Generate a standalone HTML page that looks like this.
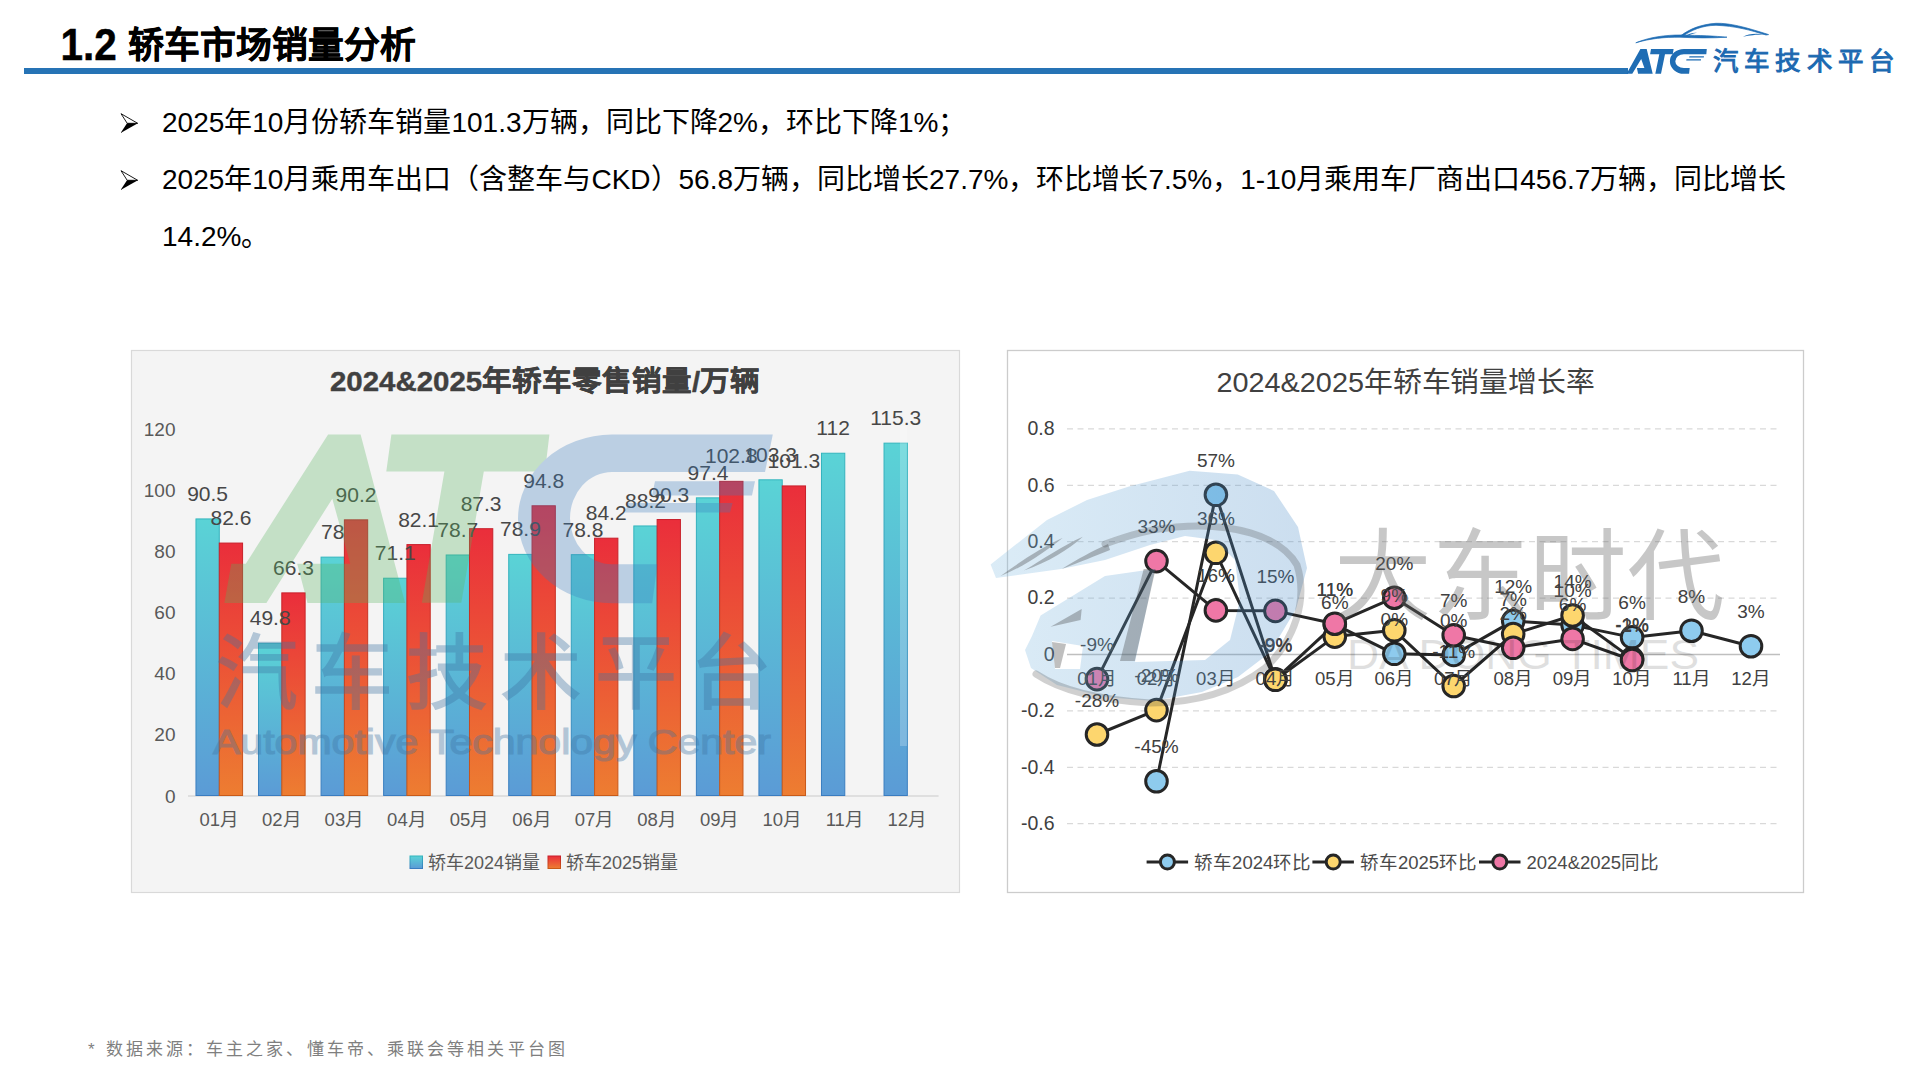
<!DOCTYPE html>
<html lang="zh-CN"><head><meta charset="utf-8">
<style>
html,body{margin:0;padding:0;background:#fff;}
body{width:1920px;height:1080px;overflow:hidden;position:relative;font-family:"Liberation Sans", sans-serif;}
.abs{position:absolute;white-space:nowrap;}
</style></head><body>

<div class="abs" style="left:60.5px;top:21px;font-size:40.5px;font-weight:bold;color:#000;line-height:50px;transform:scaleY(1.1);transform-origin:0 38px;-webkit-text-stroke:0.4px #000;">1.2</div>
<div class="abs" style="left:127.5px;top:22.5px;font-size:35.8px;font-weight:bold;color:#000;line-height:46px;-webkit-text-stroke:0.5px #000;">轿车市场销量分析</div>
<div class="abs" style="left:24px;top:67.5px;width:1604px;height:6px;background:#2673b5;"></div>
<svg class="abs" style="left:1600px;top:15px" width="320" height="70" viewBox="1600 15 320 70">
<g fill="#1f6db4">
<path d="M1626.6 73.8 L1640.4 48.9 L1646.7 48.9 L1652.7 73.8 L1638.1 73.8 L1636.9 68.1 L1644.4 68.1 L1641.2 58.9 L1632.3 73.8 Z"/>
<path d="M1651 48.9 L1673.6 48.9 L1672.8 54.3 L1665 54.3 L1661 73.8 L1655.3 73.8 L1659.3 54.3 L1650.1 54.3 Z"/>
<path d="M1683.9 48.9 L1706.8 48.9 L1706.3 54.3 L1683.9 54.3 A 8.6 6.9 0 0 0 1683.9 68.1 L1689.7 68.1 L1689.1 73.8 L1683.9 73.8 A 14 12.45 0 0 1 1683.9 48.9 Z"/>
<path d="M1689.5 56.3 L1704 56.3 L1703.8 57.6 L1689.1 57.6 Z M1686.5 59.2 L1701.1 59.2 L1700.9 60.4 L1686.2 60.4 Z"/>
<path stroke="#1f6db4" stroke-width="0.7" d="M1635.8 42.8 C1650 37 1665 35 1681 35 C1700 35.5 1715 36 1727 37.2 C1712 38.2 1695 38 1680 37.2 C1665 37 1650 38.5 1635.8 42.8 Z"/>
<path stroke="#1f6db4" stroke-width="0.7" d="M1681 35.5 C1690 29 1700 24.5 1716 23.3 C1730 23 1745 27 1768.6 34.6 L1766 35 C1750 30 1735 26 1716 25.3 C1702 25.5 1692 30 1683 36 Z"/>
<path d="M1743 36.8 C1748 34 1755 33 1766 34.6 C1756 34.5 1750 35.5 1743 36.8 Z"/>
<path d="M1684.5 36.8 C1688 33.5 1693 32.5 1697 32.8 C1692 33.8 1689 35 1686 37 Z"/>
</g>
<text x="1713" y="70" font-size="25.5" fill="#1c69b1" stroke="#1c69b1" stroke-width="1" font-family="Liberation Sans, sans-serif" textLength="182" lengthAdjust="spacing">汽车技术平台</text>
</svg>
<svg class="abs" style="left:119.5px;top:113px" width="19" height="21" viewBox="0 0 19 21"><path d="M1 0.7 L17.7 10.3 L7.2 10.3 Z" fill="#fff" stroke="#000" stroke-width="0.9" stroke-linejoin="miter"/><path d="M0.6 20 L17.9 10.3 L7 10.3 Z" fill="#000"/></svg>
<svg class="abs" style="left:119.5px;top:170.3px" width="19" height="21" viewBox="0 0 19 21"><path d="M1 0.7 L17.7 10.3 L7.2 10.3 Z" fill="#fff" stroke="#000" stroke-width="0.9" stroke-linejoin="miter"/><path d="M0.6 20 L17.9 10.3 L7 10.3 Z" fill="#000"/></svg>
<div class="abs" style="left:162px;top:103px;font-size:28px;color:#000;line-height:40px;">2025年10月份轿车销量101.3万辆，同比下降2%，环比下降1%；</div>
<div class="abs" style="left:162px;top:160px;font-size:28px;color:#000;line-height:40px;">2025年10月乘用车出口（含整车与CKD）56.8万辆，同比增长27.7%，环比增长7.5%，1-10月乘用车厂商出口456.7万辆，同比增长</div>
<div class="abs" style="left:162px;top:217px;font-size:28px;color:#000;line-height:40px;">14.2%。</div>
<svg class="abs" style="left:0;top:0" width="1920" height="1080" viewBox="0 0 1920 1080">
<defs>
<linearGradient id="gb" x1="0" y1="0" x2="0" y2="1"><stop offset="0" stop-color="#5ad3d6"/><stop offset="1" stop-color="#5b9bd6"/></linearGradient>
<linearGradient id="go" x1="0" y1="0" x2="0" y2="1"><stop offset="0" stop-color="#ea2e3b"/><stop offset="1" stop-color="#ed7d31"/></linearGradient>
<linearGradient id="gbs" x1="0" y1="0" x2="0" y2="1"><stop offset="0" stop-color="#33b5bd"/><stop offset="1" stop-color="#3a7cc0"/></linearGradient>
<linearGradient id="gos" x1="0" y1="0" x2="0" y2="1"><stop offset="0" stop-color="#c81e2a"/><stop offset="1" stop-color="#c85a18"/></linearGradient>
</defs>
<rect x="131.5" y="350.5" width="828" height="542" fill="#f4f4f4" stroke="#d9d9d9" stroke-width="1.2"/>
<text x="330" y="391" font-size="28.5" font-weight="bold" fill="#404040" stroke="#404040" stroke-width="0.4" font-family="Liberation Sans, sans-serif" textLength="430" lengthAdjust="spacingAndGlyphs">2024&amp;2025年轿车零售销量/万辆</text>
<text x="175.5" y="802.5" text-anchor="end" font-size="19" fill="#595959" font-family="Liberation Sans, sans-serif">0</text>
<text x="175.5" y="741.4" text-anchor="end" font-size="19" fill="#595959" font-family="Liberation Sans, sans-serif">20</text>
<text x="175.5" y="680.3" text-anchor="end" font-size="19" fill="#595959" font-family="Liberation Sans, sans-serif">40</text>
<text x="175.5" y="619.1" text-anchor="end" font-size="19" fill="#595959" font-family="Liberation Sans, sans-serif">60</text>
<text x="175.5" y="558.0" text-anchor="end" font-size="19" fill="#595959" font-family="Liberation Sans, sans-serif">80</text>
<text x="175.5" y="496.9" text-anchor="end" font-size="19" fill="#595959" font-family="Liberation Sans, sans-serif">100</text>
<text x="175.5" y="435.8" text-anchor="end" font-size="19" fill="#595959" font-family="Liberation Sans, sans-serif">120</text>
<line x1="188" y1="796" x2="938.6" y2="796" stroke="#d9d9d9" stroke-width="1.5"/>
<rect x="195.97" y="518.93" width="23.30" height="276.57" fill="url(#gb)" stroke="url(#gbs)" stroke-width="1"/>
<rect x="219.28" y="543.07" width="23.30" height="252.43" fill="url(#go)" stroke="url(#gos)" stroke-width="1"/>
<text x="219.3" y="825.5" text-anchor="middle" font-size="18.5" fill="#595959" font-family="Liberation Sans, sans-serif">01月</text>
<rect x="258.52" y="643.31" width="23.30" height="152.19" fill="url(#gb)" stroke="url(#gbs)" stroke-width="1"/>
<rect x="281.82" y="592.89" width="23.30" height="202.61" fill="url(#go)" stroke="url(#gos)" stroke-width="1"/>
<text x="281.8" y="825.5" text-anchor="middle" font-size="18.5" fill="#595959" font-family="Liberation Sans, sans-serif">02月</text>
<rect x="321.07" y="557.13" width="23.30" height="238.37" fill="url(#gb)" stroke="url(#gbs)" stroke-width="1"/>
<rect x="344.38" y="519.85" width="23.30" height="275.65" fill="url(#go)" stroke="url(#gos)" stroke-width="1"/>
<text x="344.4" y="825.5" text-anchor="middle" font-size="18.5" fill="#595959" font-family="Liberation Sans, sans-serif">03月</text>
<rect x="383.62" y="578.22" width="23.30" height="217.28" fill="url(#gb)" stroke="url(#gbs)" stroke-width="1"/>
<rect x="406.93" y="544.60" width="23.30" height="250.90" fill="url(#go)" stroke="url(#gos)" stroke-width="1"/>
<text x="406.9" y="825.5" text-anchor="middle" font-size="18.5" fill="#595959" font-family="Liberation Sans, sans-serif">04月</text>
<rect x="446.18" y="554.99" width="23.30" height="240.51" fill="url(#gb)" stroke="url(#gbs)" stroke-width="1"/>
<rect x="469.48" y="528.71" width="23.30" height="266.79" fill="url(#go)" stroke="url(#gos)" stroke-width="1"/>
<text x="469.5" y="825.5" text-anchor="middle" font-size="18.5" fill="#595959" font-family="Liberation Sans, sans-serif">05月</text>
<rect x="508.73" y="554.38" width="23.30" height="241.12" fill="url(#gb)" stroke="url(#gbs)" stroke-width="1"/>
<rect x="532.03" y="505.79" width="23.30" height="289.71" fill="url(#go)" stroke="url(#gos)" stroke-width="1"/>
<text x="532.0" y="825.5" text-anchor="middle" font-size="18.5" fill="#595959" font-family="Liberation Sans, sans-serif">06月</text>
<rect x="571.28" y="554.69" width="23.30" height="240.81" fill="url(#gb)" stroke="url(#gbs)" stroke-width="1"/>
<rect x="594.58" y="538.18" width="23.30" height="257.32" fill="url(#go)" stroke="url(#gos)" stroke-width="1"/>
<text x="594.6" y="825.5" text-anchor="middle" font-size="18.5" fill="#595959" font-family="Liberation Sans, sans-serif">07月</text>
<rect x="633.83" y="525.96" width="23.30" height="269.54" fill="url(#gb)" stroke="url(#gbs)" stroke-width="1"/>
<rect x="657.12" y="519.54" width="23.30" height="275.96" fill="url(#go)" stroke="url(#gos)" stroke-width="1"/>
<text x="657.1" y="825.5" text-anchor="middle" font-size="18.5" fill="#595959" font-family="Liberation Sans, sans-serif">08月</text>
<rect x="696.38" y="497.85" width="23.30" height="297.65" fill="url(#gb)" stroke="url(#gbs)" stroke-width="1"/>
<rect x="719.68" y="481.34" width="23.30" height="314.16" fill="url(#go)" stroke="url(#gos)" stroke-width="1"/>
<text x="719.7" y="825.5" text-anchor="middle" font-size="18.5" fill="#595959" font-family="Liberation Sans, sans-serif">09月</text>
<rect x="758.93" y="479.82" width="23.30" height="315.68" fill="url(#gb)" stroke="url(#gbs)" stroke-width="1"/>
<rect x="782.23" y="485.93" width="23.30" height="309.57" fill="url(#go)" stroke="url(#gos)" stroke-width="1"/>
<text x="782.2" y="825.5" text-anchor="middle" font-size="18.5" fill="#595959" font-family="Liberation Sans, sans-serif">10月</text>
<rect x="821.48" y="453.23" width="23.30" height="342.27" fill="url(#gb)" stroke="url(#gbs)" stroke-width="1"/>
<text x="844.8" y="825.5" text-anchor="middle" font-size="18.5" fill="#595959" font-family="Liberation Sans, sans-serif">11月</text>
<rect x="884.03" y="443.14" width="23.30" height="352.36" fill="url(#gb)" stroke="url(#gbs)" stroke-width="1"/>
<text x="907.3" y="825.5" text-anchor="middle" font-size="18.5" fill="#595959" font-family="Liberation Sans, sans-serif">12月</text>
<text x="207.6" y="500.9" text-anchor="middle" font-size="21" fill="#474747" font-family="Liberation Sans, sans-serif">90.5</text>
<text x="230.9" y="525.1" text-anchor="middle" font-size="21" fill="#474747" font-family="Liberation Sans, sans-serif">82.6</text>
<text x="270.2" y="625.3" text-anchor="middle" font-size="21" fill="#474747" font-family="Liberation Sans, sans-serif">49.8</text>
<text x="293.5" y="574.9" text-anchor="middle" font-size="21" fill="#474747" font-family="Liberation Sans, sans-serif">66.3</text>
<text x="332.7" y="539.1" text-anchor="middle" font-size="21" fill="#474747" font-family="Liberation Sans, sans-serif">78</text>
<text x="356.0" y="501.8" text-anchor="middle" font-size="21" fill="#474747" font-family="Liberation Sans, sans-serif">90.2</text>
<text x="395.3" y="560.2" text-anchor="middle" font-size="21" fill="#474747" font-family="Liberation Sans, sans-serif">71.1</text>
<text x="418.6" y="526.6" text-anchor="middle" font-size="21" fill="#474747" font-family="Liberation Sans, sans-serif">82.1</text>
<text x="457.8" y="537.0" text-anchor="middle" font-size="21" fill="#474747" font-family="Liberation Sans, sans-serif">78.7</text>
<text x="481.1" y="510.7" text-anchor="middle" font-size="21" fill="#474747" font-family="Liberation Sans, sans-serif">87.3</text>
<text x="520.4" y="536.4" text-anchor="middle" font-size="21" fill="#474747" font-family="Liberation Sans, sans-serif">78.9</text>
<text x="543.7" y="487.8" text-anchor="middle" font-size="21" fill="#474747" font-family="Liberation Sans, sans-serif">94.8</text>
<text x="582.9" y="536.7" text-anchor="middle" font-size="21" fill="#474747" font-family="Liberation Sans, sans-serif">78.8</text>
<text x="606.2" y="520.2" text-anchor="middle" font-size="21" fill="#474747" font-family="Liberation Sans, sans-serif">84.2</text>
<text x="645.5" y="508.0" text-anchor="middle" font-size="21" fill="#474747" font-family="Liberation Sans, sans-serif">88.2</text>
<text x="668.8" y="501.5" text-anchor="middle" font-size="21" fill="#474747" font-family="Liberation Sans, sans-serif">90.3</text>
<text x="708.0" y="479.8" text-anchor="middle" font-size="21" fill="#474747" font-family="Liberation Sans, sans-serif">97.4</text>
<text x="731.3" y="463.3" text-anchor="middle" font-size="21" fill="#474747" font-family="Liberation Sans, sans-serif">102.8</text>
<text x="770.6" y="461.8" text-anchor="middle" font-size="21" fill="#474747" font-family="Liberation Sans, sans-serif">103.3</text>
<text x="793.9" y="467.9" text-anchor="middle" font-size="21" fill="#474747" font-family="Liberation Sans, sans-serif">101.3</text>
<text x="833.1" y="435.2" text-anchor="middle" font-size="21" fill="#474747" font-family="Liberation Sans, sans-serif">112</text>
<text x="895.7" y="425.1" text-anchor="middle" font-size="21" fill="#474747" font-family="Liberation Sans, sans-serif">115.3</text>
<rect x="410" y="856" width="12.5" height="12.5" fill="url(#gb)" stroke="url(#gbs)" stroke-width="1"/>
<text x="428" y="868.5" font-size="18" fill="#595959" font-family="Liberation Sans, sans-serif">轿车2024销量</text>
<rect x="548" y="856" width="12.5" height="12.5" fill="url(#go)" stroke="url(#gos)" stroke-width="1"/>
<text x="566" y="868.5" font-size="18" fill="#595959" font-family="Liberation Sans, sans-serif">轿车2025销量</text>
<g opacity="0.3">
<path fill="#57b45e" d="M231.3 563.7 L245.8 563.7 L328.1 434.4 L360.6 434.4 L405.1 603.1 L307.5 603.1 L297.2 563.7 L350.3 563.7 L332.3 498.7 L266.4 603.1 L224.4 603.1 Z"/>
<path fill="#57b45e" d="M391.4 434.4 L549.4 434.4 L545 471.6 L483.8 471.6 L461.3 602.8 L421.9 602.8 L444.4 471.6 L386.3 471.6 Z"/>
<path fill="#397cbf" d="M612 434.6 L772.8 434.6 L765 472 L612 472 A 42 46.15 0 0 0 612 564.3 L657.4 564.3 L652.2 603.2 L612 603.2 A 94 84.3 0 0 1 612 434.6 Z"/>
<path fill="#397cbf" d="M655 481.3 L755 481.3 L752 495.6 L652 495.6 Z M628 503 L732.6 503 L730 512.4 L625 512.4 Z"/>
</g>
<g opacity="0.36" fill="#3f74a3">
<text x="216" y="702" font-size="82" stroke="#3f74a3" stroke-width="1.5" font-family="Liberation Sans, sans-serif" textLength="556" lengthAdjust="spacing">汽车技术平台</text>
<text x="213" y="753.5" font-size="35" stroke="#3f74a3" stroke-width="1.2" font-family="Liberation Sans, sans-serif" textLength="558" lengthAdjust="spacingAndGlyphs">Automotive Technology Center</text>
</g>
<rect x="900" y="426" width="7" height="320" fill="#fff" opacity="0.22"/>
</svg>
<svg class="abs" style="left:0;top:0" width="1920" height="1080" viewBox="0 0 1920 1080">
<rect x="1007.5" y="350.5" width="796" height="542" fill="#fff" stroke="#cccccc" stroke-width="1.3"/>
<text x="1216.5" y="392" font-size="28" fill="#404040" font-family="Liberation Sans, sans-serif" textLength="378" lengthAdjust="spacingAndGlyphs">2024&amp;2025年轿车销量增长率</text>
<text x="1054.5" y="435.2" text-anchor="end" font-size="19.5" fill="#404040" font-family="Liberation Sans, sans-serif">0.8</text>
<line x1="1067" y1="428.9" x2="1780" y2="428.9" stroke="#d9d9d9" stroke-width="1.3" stroke-dasharray="6 4.5"/>
<text x="1054.5" y="491.6" text-anchor="end" font-size="19.5" fill="#404040" font-family="Liberation Sans, sans-serif">0.6</text>
<line x1="1067" y1="485.3" x2="1780" y2="485.3" stroke="#d9d9d9" stroke-width="1.3" stroke-dasharray="6 4.5"/>
<text x="1054.5" y="548.0" text-anchor="end" font-size="19.5" fill="#404040" font-family="Liberation Sans, sans-serif">0.4</text>
<line x1="1067" y1="541.7" x2="1780" y2="541.7" stroke="#d9d9d9" stroke-width="1.3" stroke-dasharray="6 4.5"/>
<text x="1054.5" y="604.4" text-anchor="end" font-size="19.5" fill="#404040" font-family="Liberation Sans, sans-serif">0.2</text>
<line x1="1067" y1="598.1" x2="1780" y2="598.1" stroke="#d9d9d9" stroke-width="1.3" stroke-dasharray="6 4.5"/>
<text x="1054.5" y="660.8" text-anchor="end" font-size="19.5" fill="#404040" font-family="Liberation Sans, sans-serif">0</text>
<line x1="1067" y1="654.5" x2="1780" y2="654.5" stroke="#bfbfbf" stroke-width="1.5"/>
<text x="1054.5" y="717.2" text-anchor="end" font-size="19.5" fill="#404040" font-family="Liberation Sans, sans-serif">-0.2</text>
<line x1="1067" y1="710.9" x2="1780" y2="710.9" stroke="#d9d9d9" stroke-width="1.3" stroke-dasharray="6 4.5"/>
<text x="1054.5" y="773.6" text-anchor="end" font-size="19.5" fill="#404040" font-family="Liberation Sans, sans-serif">-0.4</text>
<line x1="1067" y1="767.3" x2="1780" y2="767.3" stroke="#d9d9d9" stroke-width="1.3" stroke-dasharray="6 4.5"/>
<text x="1054.5" y="830.0" text-anchor="end" font-size="19.5" fill="#404040" font-family="Liberation Sans, sans-serif">-0.6</text>
<line x1="1067" y1="823.7" x2="1780" y2="823.7" stroke="#d9d9d9" stroke-width="1.3" stroke-dasharray="6 4.5"/>
<polyline fill="none" stroke="#262626" stroke-width="3" stroke-linejoin="round" points="1156.5,781.3 1215.9,494.8 1275.4,679.4 1334.8,624.4 1394.3,653.8 1453.7,654.9 1513.2,620.9 1572.6,625.1 1632.1,637.4 1691.5,630.7 1751.0,646.2"/>
<circle cx="1156.5" cy="781.3" r="10.8" fill="#8ecbee" stroke="#262626" stroke-width="3"/>
<circle cx="1215.9" cy="494.8" r="10.8" fill="#8ecbee" stroke="#262626" stroke-width="3"/>
<circle cx="1275.4" cy="679.4" r="10.8" fill="#8ecbee" stroke="#262626" stroke-width="3"/>
<circle cx="1334.8" cy="624.4" r="10.8" fill="#8ecbee" stroke="#262626" stroke-width="3"/>
<circle cx="1394.3" cy="653.8" r="10.8" fill="#8ecbee" stroke="#262626" stroke-width="3"/>
<circle cx="1453.7" cy="654.9" r="10.8" fill="#8ecbee" stroke="#262626" stroke-width="3"/>
<circle cx="1513.2" cy="620.9" r="10.8" fill="#8ecbee" stroke="#262626" stroke-width="3"/>
<circle cx="1572.6" cy="625.1" r="10.8" fill="#8ecbee" stroke="#262626" stroke-width="3"/>
<circle cx="1632.1" cy="637.4" r="10.8" fill="#8ecbee" stroke="#262626" stroke-width="3"/>
<circle cx="1691.5" cy="630.7" r="10.8" fill="#8ecbee" stroke="#262626" stroke-width="3"/>
<circle cx="1751.0" cy="646.2" r="10.8" fill="#8ecbee" stroke="#262626" stroke-width="3"/>
<polyline fill="none" stroke="#262626" stroke-width="3" stroke-linejoin="round" points="1097.0,734.5 1156.5,710.1 1215.9,552.8 1275.4,679.8 1334.8,636.6 1394.3,630.3 1453.7,686.0 1513.2,634.1 1572.6,615.5 1632.1,658.6"/>
<circle cx="1097.0" cy="734.5" r="10.8" fill="#fdd66e" stroke="#262626" stroke-width="3"/>
<circle cx="1156.5" cy="710.1" r="10.8" fill="#fdd66e" stroke="#262626" stroke-width="3"/>
<circle cx="1215.9" cy="552.8" r="10.8" fill="#fdd66e" stroke="#262626" stroke-width="3"/>
<circle cx="1275.4" cy="679.8" r="10.8" fill="#fdd66e" stroke="#262626" stroke-width="3"/>
<circle cx="1334.8" cy="636.6" r="10.8" fill="#fdd66e" stroke="#262626" stroke-width="3"/>
<circle cx="1394.3" cy="630.3" r="10.8" fill="#fdd66e" stroke="#262626" stroke-width="3"/>
<circle cx="1453.7" cy="686.0" r="10.8" fill="#fdd66e" stroke="#262626" stroke-width="3"/>
<circle cx="1513.2" cy="634.1" r="10.8" fill="#fdd66e" stroke="#262626" stroke-width="3"/>
<circle cx="1572.6" cy="615.5" r="10.8" fill="#fdd66e" stroke="#262626" stroke-width="3"/>
<circle cx="1632.1" cy="658.6" r="10.8" fill="#fdd66e" stroke="#262626" stroke-width="3"/>
<polyline fill="none" stroke="#262626" stroke-width="3" stroke-linejoin="round" points="1097.0,679.1 1156.5,561.1 1215.9,610.4 1275.4,610.9 1334.8,623.7 1394.3,597.7 1453.7,635.2 1513.2,647.8 1572.6,638.9 1632.1,660.0"/>
<circle cx="1097.0" cy="679.1" r="10.8" fill="#ef77a6" stroke="#262626" stroke-width="3"/>
<circle cx="1156.5" cy="561.1" r="10.8" fill="#ef77a6" stroke="#262626" stroke-width="3"/>
<circle cx="1215.9" cy="610.4" r="10.8" fill="#ef77a6" stroke="#262626" stroke-width="3"/>
<circle cx="1275.4" cy="610.9" r="10.8" fill="#ef77a6" stroke="#262626" stroke-width="3"/>
<circle cx="1334.8" cy="623.7" r="10.8" fill="#ef77a6" stroke="#262626" stroke-width="3"/>
<circle cx="1394.3" cy="597.7" r="10.8" fill="#ef77a6" stroke="#262626" stroke-width="3"/>
<circle cx="1453.7" cy="635.2" r="10.8" fill="#ef77a6" stroke="#262626" stroke-width="3"/>
<circle cx="1513.2" cy="647.8" r="10.8" fill="#ef77a6" stroke="#262626" stroke-width="3"/>
<circle cx="1572.6" cy="638.9" r="10.8" fill="#ef77a6" stroke="#262626" stroke-width="3"/>
<circle cx="1632.1" cy="660.0" r="10.8" fill="#ef77a6" stroke="#262626" stroke-width="3"/>
<text x="1156.5" y="753.3" text-anchor="middle" font-size="19" fill="#404040" font-family="Liberation Sans, sans-serif">-45%</text>
<text x="1215.9" y="466.8" text-anchor="middle" font-size="19" fill="#404040" font-family="Liberation Sans, sans-serif">57%</text>
<text x="1275.4" y="651.4" text-anchor="middle" font-size="19" fill="#404040" font-family="Liberation Sans, sans-serif">-9%</text>
<text x="1334.8" y="596.4" text-anchor="middle" font-size="19" fill="#404040" font-family="Liberation Sans, sans-serif">11%</text>
<text x="1394.3" y="625.8" text-anchor="middle" font-size="19" fill="#404040" font-family="Liberation Sans, sans-serif">0%</text>
<text x="1453.7" y="626.9" text-anchor="middle" font-size="19" fill="#404040" font-family="Liberation Sans, sans-serif">0%</text>
<text x="1513.2" y="592.9" text-anchor="middle" font-size="19" fill="#404040" font-family="Liberation Sans, sans-serif">12%</text>
<text x="1572.6" y="597.1" text-anchor="middle" font-size="19" fill="#404040" font-family="Liberation Sans, sans-serif">10%</text>
<text x="1632.1" y="609.4" text-anchor="middle" font-size="19" fill="#404040" font-family="Liberation Sans, sans-serif">6%</text>
<text x="1691.5" y="602.7" text-anchor="middle" font-size="19" fill="#404040" font-family="Liberation Sans, sans-serif">8%</text>
<text x="1751.0" y="618.2" text-anchor="middle" font-size="19" fill="#404040" font-family="Liberation Sans, sans-serif">3%</text>
<text x="1097.0" y="706.5" text-anchor="middle" font-size="19" fill="#404040" font-family="Liberation Sans, sans-serif">-28%</text>
<text x="1156.5" y="682.1" text-anchor="middle" font-size="19" fill="#404040" font-family="Liberation Sans, sans-serif">-20%</text>
<text x="1215.9" y="524.8" text-anchor="middle" font-size="19" fill="#404040" font-family="Liberation Sans, sans-serif">36%</text>
<text x="1275.4" y="651.8" text-anchor="middle" font-size="19" fill="#404040" font-family="Liberation Sans, sans-serif">-9%</text>
<text x="1334.8" y="608.6" text-anchor="middle" font-size="19" fill="#404040" font-family="Liberation Sans, sans-serif">6%</text>
<text x="1394.3" y="602.3" text-anchor="middle" font-size="19" fill="#404040" font-family="Liberation Sans, sans-serif">9%</text>
<text x="1453.7" y="658.0" text-anchor="middle" font-size="19" fill="#404040" font-family="Liberation Sans, sans-serif">-11%</text>
<text x="1513.2" y="606.1" text-anchor="middle" font-size="19" fill="#404040" font-family="Liberation Sans, sans-serif">7%</text>
<text x="1572.6" y="587.5" text-anchor="middle" font-size="19" fill="#404040" font-family="Liberation Sans, sans-serif">14%</text>
<text x="1632.1" y="630.6" text-anchor="middle" font-size="19" fill="#404040" font-family="Liberation Sans, sans-serif">-1%</text>
<text x="1097.0" y="651.1" text-anchor="middle" font-size="19" fill="#404040" font-family="Liberation Sans, sans-serif">-9%</text>
<text x="1156.5" y="533.1" text-anchor="middle" font-size="19" fill="#404040" font-family="Liberation Sans, sans-serif">33%</text>
<text x="1215.9" y="582.4" text-anchor="middle" font-size="19" fill="#404040" font-family="Liberation Sans, sans-serif">16%</text>
<text x="1275.4" y="582.9" text-anchor="middle" font-size="19" fill="#404040" font-family="Liberation Sans, sans-serif">15%</text>
<text x="1334.8" y="595.7" text-anchor="middle" font-size="19" fill="#404040" font-family="Liberation Sans, sans-serif">11%</text>
<text x="1394.3" y="569.7" text-anchor="middle" font-size="19" fill="#404040" font-family="Liberation Sans, sans-serif">20%</text>
<text x="1453.7" y="607.2" text-anchor="middle" font-size="19" fill="#404040" font-family="Liberation Sans, sans-serif">7%</text>
<text x="1513.2" y="619.8" text-anchor="middle" font-size="19" fill="#404040" font-family="Liberation Sans, sans-serif">2%</text>
<text x="1572.6" y="610.9" text-anchor="middle" font-size="19" fill="#404040" font-family="Liberation Sans, sans-serif">6%</text>
<text x="1632.1" y="632.0" text-anchor="middle" font-size="19" fill="#404040" font-family="Liberation Sans, sans-serif">-2%</text>
<text x="1097.0" y="685" text-anchor="middle" font-size="18.5" fill="#404040" font-family="Liberation Sans, sans-serif">01月</text>
<text x="1156.5" y="685" text-anchor="middle" font-size="18.5" fill="#404040" font-family="Liberation Sans, sans-serif">02月</text>
<text x="1215.9" y="685" text-anchor="middle" font-size="18.5" fill="#404040" font-family="Liberation Sans, sans-serif">03月</text>
<text x="1275.4" y="685" text-anchor="middle" font-size="18.5" fill="#404040" font-family="Liberation Sans, sans-serif">04月</text>
<text x="1334.8" y="685" text-anchor="middle" font-size="18.5" fill="#404040" font-family="Liberation Sans, sans-serif">05月</text>
<text x="1394.3" y="685" text-anchor="middle" font-size="18.5" fill="#404040" font-family="Liberation Sans, sans-serif">06月</text>
<text x="1453.7" y="685" text-anchor="middle" font-size="18.5" fill="#404040" font-family="Liberation Sans, sans-serif">07月</text>
<text x="1513.2" y="685" text-anchor="middle" font-size="18.5" fill="#404040" font-family="Liberation Sans, sans-serif">08月</text>
<text x="1572.6" y="685" text-anchor="middle" font-size="18.5" fill="#404040" font-family="Liberation Sans, sans-serif">09月</text>
<text x="1632.1" y="685" text-anchor="middle" font-size="18.5" fill="#404040" font-family="Liberation Sans, sans-serif">10月</text>
<text x="1691.5" y="685" text-anchor="middle" font-size="18.5" fill="#404040" font-family="Liberation Sans, sans-serif">11月</text>
<text x="1751.0" y="685" text-anchor="middle" font-size="18.5" fill="#404040" font-family="Liberation Sans, sans-serif">12月</text>
<line x1="1146.6" y1="862" x2="1188.1" y2="862" stroke="#262626" stroke-width="3"/>
<circle cx="1167.3999999999999" cy="862" r="7" fill="#8ecbee" stroke="#262626" stroke-width="3"/>
<text x="1194.1" y="869" font-size="18.5" fill="#4a4a4a" font-family="Liberation Sans, sans-serif">轿车2024环比</text>
<line x1="1312.4" y1="862" x2="1353.9" y2="862" stroke="#262626" stroke-width="3"/>
<circle cx="1333.2" cy="862" r="7" fill="#fdd66e" stroke="#262626" stroke-width="3"/>
<text x="1359.9" y="869" font-size="18.5" fill="#4a4a4a" font-family="Liberation Sans, sans-serif">轿车2025环比</text>
<line x1="1479" y1="862" x2="1520.5" y2="862" stroke="#262626" stroke-width="3"/>
<circle cx="1499.8" cy="862" r="7" fill="#ef77a6" stroke="#262626" stroke-width="3"/>
<text x="1526.5" y="869" font-size="18.5" fill="#4a4a4a" font-family="Liberation Sans, sans-serif">2024&amp;2025同比</text>
<defs><linearGradient id="dg" gradientUnits="userSpaceOnUse" x1="990" y1="0" x2="1310" y2="0"><stop offset="0" stop-color="#7ab8e0"/><stop offset="1" stop-color="#3f84c4"/></linearGradient></defs>
<g opacity="0.27">
<path fill="url(#dg)" fill-rule="evenodd" d="M990.6,564.4 L1047,520 L1087,500 L1129,486.5 L1189.6,470.8 L1237.8,474.4 L1274,491 L1298,527 L1307,568 L1296,609 L1270,652.6 L1238,677 L1202,692 L1153.5,701 L1105,697 L1057,685 L1031,668 L1025,650 L1032,636 L1040.6,615.6 L1105,576 L1140,571 L1155,569 L1135,662 L1205,660 L1230,640 L1240,600 L1235,560 L1215,540 L1185,536 L1150,545 L1105,560 L1061,569 L996,578 Z M1052,641 L1083,646 L1080,669 L1055,669 Z"/>
</g>
<g opacity="0.24">
<path fill="none" stroke="#3a3a3a" stroke-width="7" stroke-linecap="round" d="M1105 544 C1130 535 1150 529 1176 527 C1230 522 1280 535 1297 565 C1308 600 1295 640 1265 668 C1230 695 1190 703 1150 703 C1100 700 1060 690 1036 674"/>
</g>
<g opacity="0.32" fill="#3a3a3a">
<path d="M1000.6 576 C1020 562 1040 548 1062.8 537.8 C1045 552 1025 566 1000.6 576 Z"/>
<path d="M1024 570.5 C1045 558 1062 546 1082.8 536.7 C1068 550 1048 562 1024 570.5 Z"/>
<path d="M1061.7 569 C1080 558 1090 552 1108 544 L1110 550 C1095 556 1080 562 1061.7 569 Z"/>
<path d="M1143.7 569 L1155.6 569 L1134.8 661 L1120 661 Z"/>
<path d="M1050.6 626.7 L1081.7 608.9 L1080.6 620 Z"/>
<path d="M1052 642 L1066 644 L1060 668 L1055 668 Z"/>
</g>
<g opacity="0.36" fill="#666">
<text x="1334" y="612" font-size="100" font-family="Liberation Sans, sans-serif" textLength="390" lengthAdjust="spacingAndGlyphs" font-weight="300">大东时代</text>
</g>
<text x="1347" y="668.5" font-size="43" fill="#000" opacity="0.12" font-family="Liberation Sans, sans-serif" textLength="352" lengthAdjust="spacingAndGlyphs">DA DONG TIMES</text>
</svg>
<div class="abs" style="left:88px;top:1039px;font-size:17px;letter-spacing:3.1px;color:#7f7f7f;line-height:22px;">* 数据来源：车主之家、懂车帝、乘联会等相关平台图</div>
</body></html>
